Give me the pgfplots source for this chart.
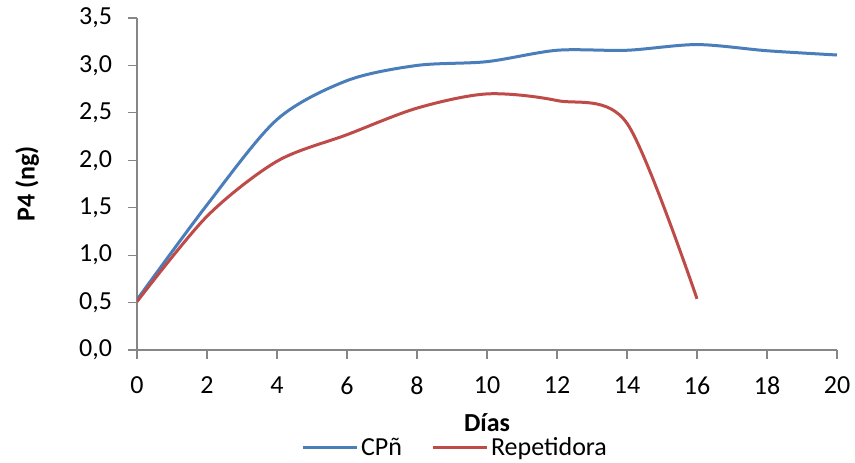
\documentclass[border=0pt]{standalone}
\usepackage{fontspec}
\setmainfont{Carlito}
\usepackage{pgfplots}
\pgfplotsset{compat=1.18}
\definecolor{cblue}{HTML}{4A7EBB}
\definecolor{cred}{HTML}{BE4B48}
\definecolor{axgray}{HTML}{868686}
\begin{document}
\begin{tikzpicture}
\begin{axis}[
  at={(0,0)}, anchor=south west,
  scale only axis,
  width=350pt, height=166pt,
  xmin=0, xmax=20, ymin=0, ymax=3.5,
  xtick={0,2,...,20}, ytick={0,0.5,...,3.5},
  axis x line*=bottom, axis y line*=left,
  axis line style={axgray, line width=0.6pt},
  tick style={axgray, line width=0.6pt},
  tick align=outside,
  major tick length=4.5pt,
  font=\fontsize{13}{15}\selectfont,
  tick label style={font=\fontsize{13}{15}\selectfont},
  /pgf/number format/.cd, fixed, fixed zerofill, precision=1, use comma, assume math mode=true,
  /pgfplots/.cd,
  xticklabel style={/pgf/number format/precision=0, /pgf/number format/fixed zerofill=false, yshift=-5.5pt},
  yticklabel style={xshift=-4.5pt},
  xlabel={\textbf{Días}},
  xlabel style={at={(axis description cs:0.5,-0.218)}, anchor=center},
  ylabel={\textbf{P4 (ng)}},
  ylabel style={at={(axis description cs:-0.157,0.5)}, anchor=center},
  legend columns=2,
  legend style={draw=none, fill=none, at={(0.455,-0.295)}, anchor=center,
    font=\fontsize{13}{15}\selectfont,
    /tikz/every even column/.style={column sep=13pt},
    nodes={inner sep=1.5pt}},
  legend image code/.code={\draw[#1] (0pt,0pt) -- (27pt,0pt);},
]
\addplot[cblue, line width=1.5pt, smooth, tension=0.5] coordinates {
 (0,0.53) (2,1.53) (4,2.43) (6,2.84) (8,3.00) (10,3.04) (12,3.16) (14,3.16) (16,3.22) (18,3.155) (20,3.11)
};
\addlegendentry{CPñ}
\addplot[cred, line width=1.5pt, smooth, tension=0.5] coordinates {
 (0,0.51) (2,1.41) (4,1.99) (6,2.27) (8,2.55) (10,2.70) (12,2.63) (14,2.39) (16,0.54)
};
\addlegendentry{Repetidora}
\end{axis}
\pgfresetboundingbox
\path (-68.5pt,-56pt) rectangle (359pt,175pt);
\end{tikzpicture}
\end{document}
